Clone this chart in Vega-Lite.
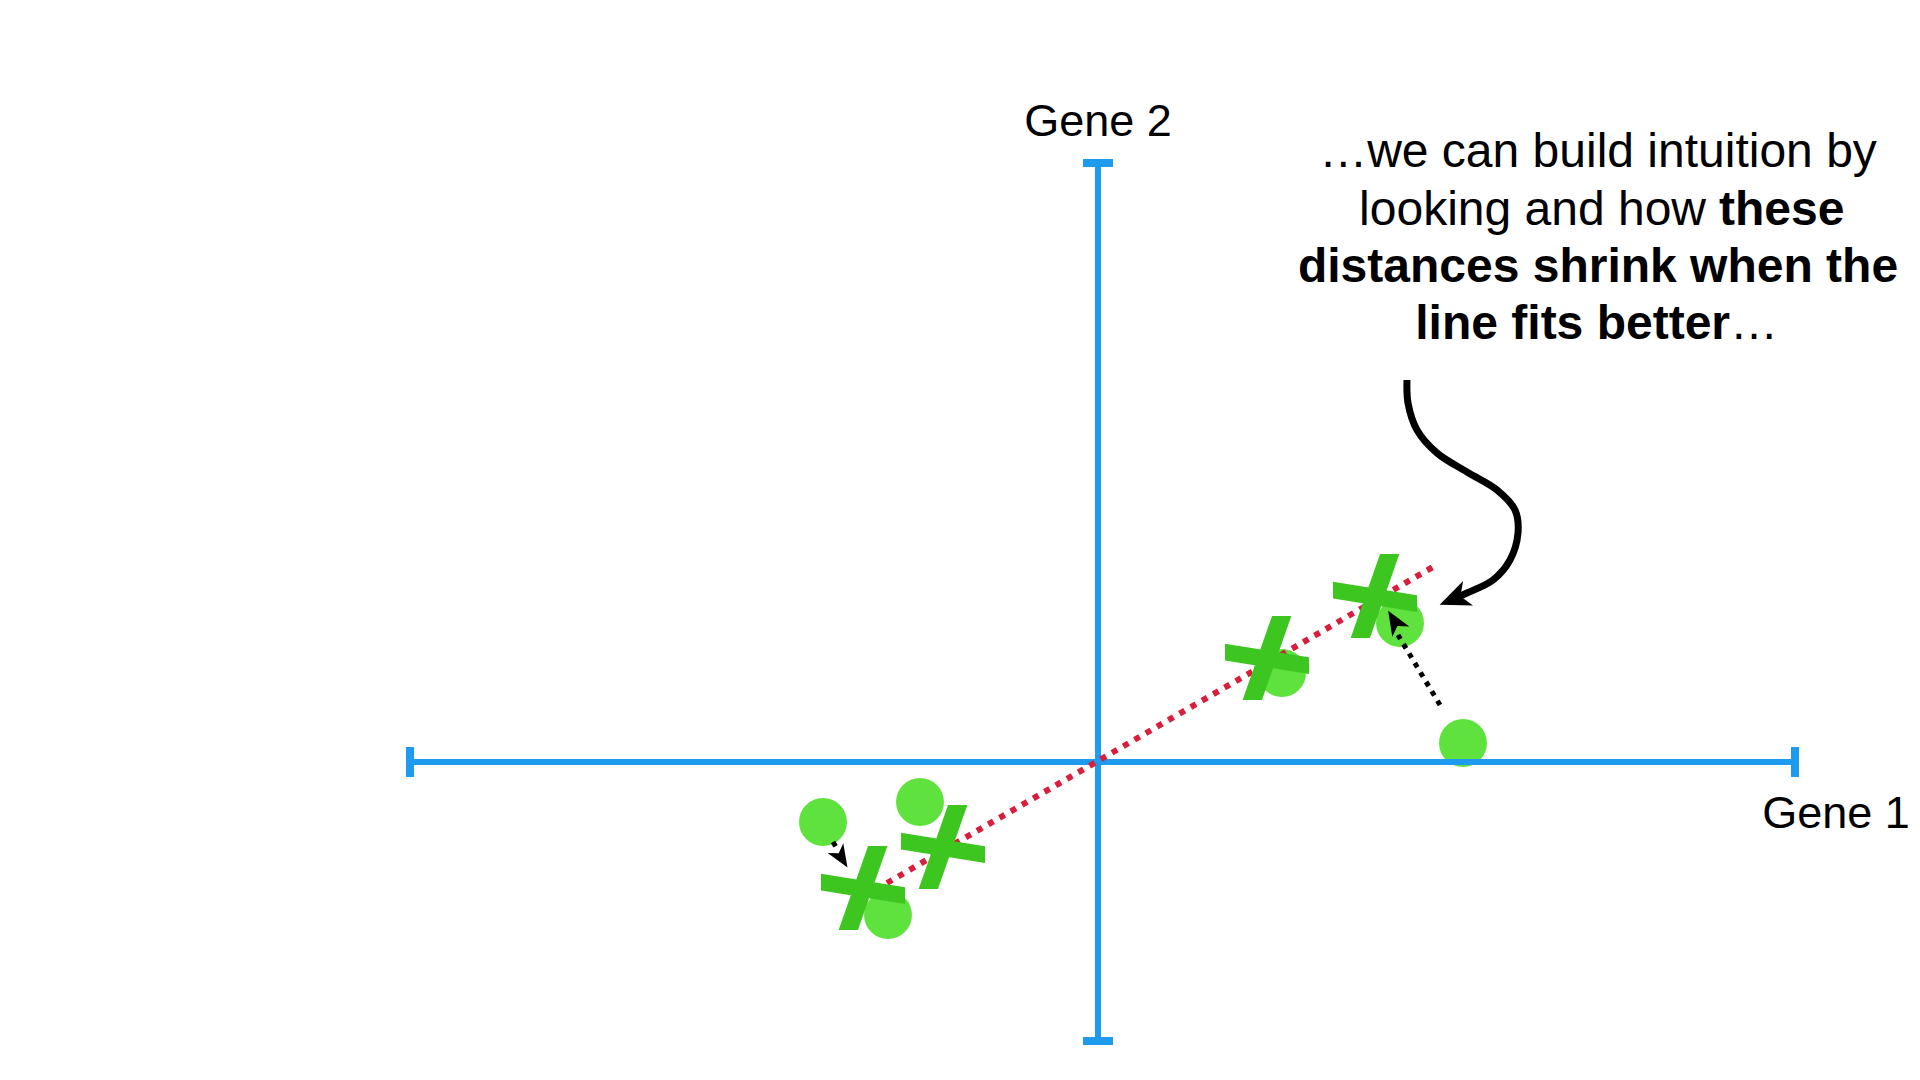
{
  "$schema": "https://vega.github.io/schema/vega-lite/v6.json",
  "width": 1920,
  "height": 1080,
  "autosize": "none",
  "padding": 0,
  "background": "white",
  "config": {"view": {"stroke": null}},
  "datasets": {
    "circles": [
      {"g1": -2.75, "g2": -0.60},
      {"g1": -1.78, "g2": -0.40},
      {"g1": -2.10, "g2": -1.53},
      {"g1": 1.84, "g2": 0.89},
      {"g1": 3.02, "g2": 1.39},
      {"g1": 3.65, "g2": 0.19}
    ],
    "projections": [
      {"g1": -2.35, "g2": -1.26},
      {"g1": -1.55, "g2": -0.85},
      {"g1": 1.69, "g2": 1.04},
      {"g1": 2.77, "g2": 1.66}
    ],
    "axisLines": [
      {"x1": -6.88, "x2": 6.97, "y1": 0, "y2": 0},
      {"x1": 0, "x2": 0, "y1": -2.79, "y2": 5.99}
    ],
    "axisCaps": [
      {"x1": -6.88, "x2": -6.88, "y1": -0.15, "y2": 0.15},
      {"x1": 6.97, "x2": 6.97, "y1": -0.15, "y2": 0.15},
      {"x1": -0.15, "x2": 0.15, "y1": 5.99, "y2": 5.99},
      {"x1": -0.15, "x2": 0.15, "y1": -2.79, "y2": -2.79}
    ],
    "fitLine": [
      {"g1": -2.11, "g2": -1.21},
      {"g1": 3.35, "g2": 1.95}
    ],
    "dotted": [
      {"arrow": "a", "i": 0, "g1": 3.42, "g2": 0.57},
      {"arrow": "a", "i": 1, "g1": 3.00, "g2": 1.27},
      {"arrow": "b", "i": 0, "g1": -2.65, "g2": -0.80},
      {"arrow": "b", "i": 1, "g1": -2.60, "g2": -0.88}
    ],
    "heads": [
      {"arrow": "a", "g1": 2.97, "g2": 1.40},
      {"arrow": "b", "g1": -2.57, "g2": -0.95},
      {"arrow": "c", "g1": 3.57, "g2": 1.635}
    ],
    "curve": [
      {"i": 0, "g1": 3.09, "g2": 3.82},
      {"i": 1, "g1": 3.10, "g2": 3.59},
      {"i": 2, "g1": 3.19, "g2": 3.32},
      {"i": 3, "g1": 3.39, "g2": 3.09},
      {"i": 4, "g1": 3.69, "g2": 2.90},
      {"i": 5, "g1": 3.99, "g2": 2.72},
      {"i": 6, "g1": 4.17, "g2": 2.52},
      {"i": 7, "g1": 4.20, "g2": 2.29},
      {"i": 8, "g1": 4.12, "g2": 2.02},
      {"i": 9, "g1": 3.95, "g2": 1.82},
      {"i": 10, "g1": 3.69, "g2": 1.69},
      {"i": 11, "g1": 3.55, "g2": 1.63}
    ],
    "notes": [
      {"id": "gene2", "text": "Gene 2", "g1": 0, "g2": 6.26},
      {"id": "gene1", "text": "Gene 1", "g1": 7.38, "g2": -0.66},
      {"id": "l1", "text": "…we can build intuition by", "g1": 5.0, "g2": 5.95},
      {"id": "l2a", "text": "looking and how", "g1": 6.08, "g2": 5.37},
      {"id": "l2b", "text": "these", "g1": 6.21, "g2": 5.37},
      {"id": "l3", "text": "distances shrink when the", "g1": 5.0, "g2": 4.80},
      {"id": "l4a", "text": "line fits better", "g1": 6.32, "g2": 4.23},
      {"id": "l4b", "text": "…", "g1": 6.32, "g2": 4.23}
    ]
  },
  "encoding": {
    "x": {"field": "g1", "type": "quantitative", "scale": {"domain": [-10.98, 8.22], "nice": false, "zero": false}, "axis": null},
    "y": {"field": "g2", "type": "quantitative", "scale": {"domain": [-3.18, 7.62], "nice": false, "zero": false}, "axis": null}
  },
  "layer": [
    {
      "data": {"name": "circles"},
      "mark": {"type": "point", "shape": "circle", "filled": true, "size": 2300, "color": "#60E23E", "opacity": 1}
    },
    {
      "data": {"name": "axisLines"},
      "mark": {"type": "rule", "color": "#1E9BEF", "strokeWidth": 6, "strokeCap": "butt"},
      "encoding": {
        "x": {"field": "x1", "type": "quantitative"},
        "x2": {"field": "x2"},
        "y": {"field": "y1", "type": "quantitative"},
        "y2": {"field": "y2"}
      }
    },
    {
      "data": {"name": "axisCaps"},
      "mark": {"type": "rule", "color": "#1E9BEF", "strokeWidth": 8, "strokeCap": "butt"},
      "encoding": {
        "x": {"field": "x1", "type": "quantitative"},
        "x2": {"field": "x2"},
        "y": {"field": "y1", "type": "quantitative"},
        "y2": {"field": "y2"}
      }
    },
    {
      "data": {"name": "fitLine"},
      "mark": {"type": "line", "color": "#D81E3C", "strokeWidth": 6, "strokeDash": [6, 7], "strokeCap": "butt"},
      "encoding": {}
    },
    {
      "data": {"name": "projections"},
      "mark": {"type": "point", "filled": true, "opacity": 1, "color": "#3EC620", "size": 7056,
        "shape": "M-1,-0.34L1,-0.02L1,0.38L-1,0.06Z M0.12,-1L0.58,-1L-0.12,1L-0.58,1Z"}
    },
    {
      "data": {"name": "dotted"},
      "mark": {"type": "line", "color": "black", "strokeWidth": 5, "strokeDash": [5, 6], "strokeCap": "butt"},
      "encoding": {
        "detail": {"field": "arrow"},
        "order": {"field": "i", "type": "quantitative"}
      }
    },
    {
      "data": {"name": "heads"},
      "transform": [{"filter": "datum.arrow === 'a'"}],
      "mark": {"type": "point", "filled": true, "opacity": 1, "color": "black", "size": 700, "angle": 329,
        "shape": "M0,-1L0.75,0.85L0,0.35L-0.75,0.85Z"}
    },
    {
      "data": {"name": "heads"},
      "transform": [{"filter": "datum.arrow === 'b'"}],
      "mark": {"type": "point", "filled": true, "opacity": 1, "color": "black", "size": 600, "angle": 148,
        "shape": "M0,-1L0.75,0.85L0,0.35L-0.75,0.85Z"}
    },
    {
      "data": {"name": "curve"},
      "mark": {"type": "line", "color": "black", "strokeWidth": 7, "strokeCap": "butt", "interpolate": "catmull-rom"},
      "encoding": {"order": {"field": "i", "type": "quantitative"}}
    },
    {
      "data": {"name": "heads"},
      "transform": [{"filter": "datum.arrow === 'c'"}],
      "mark": {"type": "point", "filled": true, "opacity": 1, "color": "black", "size": 1100, "angle": 248,
        "shape": "M0,-1L0.8,0.85L0,0.35L-0.8,0.85Z"}
    },
    {
      "data": {"name": "notes"},
      "transform": [{"filter": "datum.id === 'gene1' || datum.id === 'gene2'"}],
      "mark": {"type": "text", "font": "Liberation Sans", "fontSize": 45, "align": "center", "baseline": "alphabetic", "color": "black"},
      "encoding": {"text": {"field": "text"}}
    },
    {
      "data": {"name": "notes"},
      "transform": [{"filter": "datum.id === 'l1'"}],
      "mark": {"type": "text", "font": "Liberation Sans", "fontSize": 48, "align": "center", "baseline": "alphabetic", "color": "black"},
      "encoding": {"text": {"field": "text"}}
    },
    {
      "data": {"name": "notes"},
      "transform": [{"filter": "datum.id === 'l2a'"}],
      "mark": {"type": "text", "font": "Liberation Sans", "fontSize": 48, "align": "right", "baseline": "alphabetic", "color": "black"},
      "encoding": {"text": {"field": "text"}}
    },
    {
      "data": {"name": "notes"},
      "transform": [{"filter": "datum.id === 'l2b'"}],
      "mark": {"type": "text", "font": "Liberation Sans", "fontSize": 48, "fontWeight": "bold", "align": "left", "baseline": "alphabetic", "color": "black"},
      "encoding": {"text": {"field": "text"}}
    },
    {
      "data": {"name": "notes"},
      "transform": [{"filter": "datum.id === 'l3'"}],
      "mark": {"type": "text", "font": "Liberation Sans", "fontSize": 48, "fontWeight": "bold", "align": "center", "baseline": "alphabetic", "color": "black"},
      "encoding": {"text": {"field": "text"}}
    },
    {
      "data": {"name": "notes"},
      "transform": [{"filter": "datum.id === 'l4a'"}],
      "mark": {"type": "text", "font": "Liberation Sans", "fontSize": 48, "fontWeight": "bold", "align": "right", "baseline": "alphabetic", "color": "black"},
      "encoding": {"text": {"field": "text"}}
    },
    {
      "data": {"name": "notes"},
      "transform": [{"filter": "datum.id === 'l4b'"}],
      "mark": {"type": "text", "font": "Liberation Sans", "fontSize": 48, "align": "left", "baseline": "alphabetic", "color": "black"},
      "encoding": {"text": {"field": "text"}}
    }
  ]
}
